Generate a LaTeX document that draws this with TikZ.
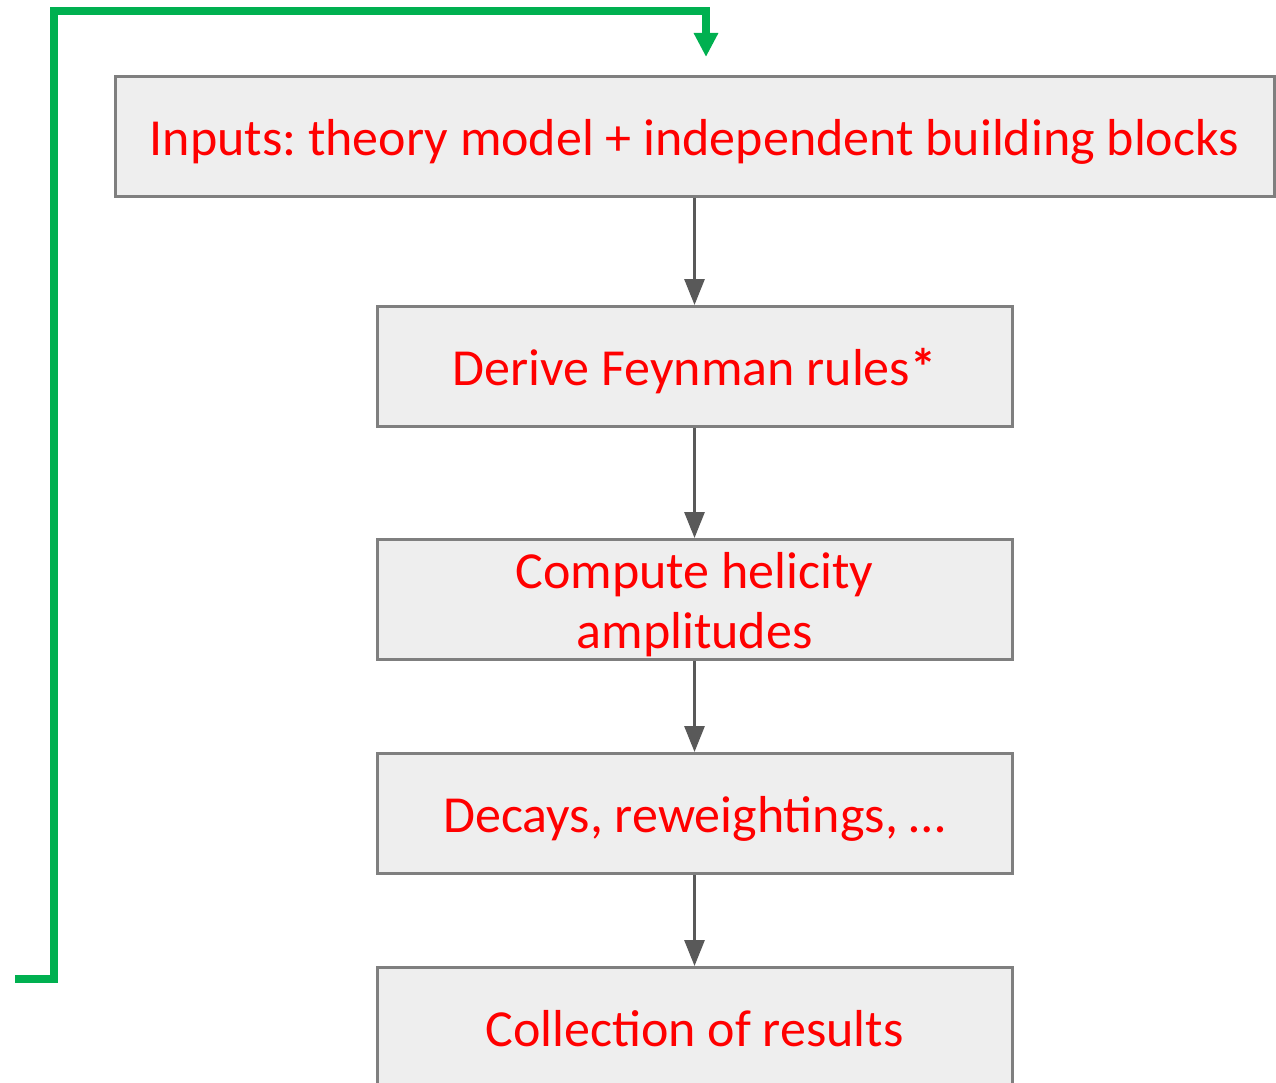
\documentclass[tikz,border=0pt]{standalone}
\usepackage{fontspec}
\setmainfont{Carlito}
\usepackage{xcolor}
\usepackage{tikz}
\usetikzlibrary{arrows.meta,positioning}
\definecolor{boxgray}{RGB}{238,238,238}
\definecolor{edgegray}{RGB}{127,127,127}
\definecolor{arrowgray}{RGB}{89,89,89}
\definecolor{loopgreen}{RGB}{0,176,80}
\frenchspacing
\tikzset{
  block/.style={rectangle, draw=edgegray, line width=3pt, fill=boxgray,
                minimum height=120pt, minimum width=635pt, align=center,
                text height=45pt, text depth=7pt,
                text=red, font=\fontsize{52}{60}\selectfont, inner sep=2pt},
  twolines/.style={text height=105pt},
  arrow/.style={-{Triangle[length=26pt,width=20pt]}, line width=3pt, arrowgray},
  loopback/.style={-{Triangle[length=24pt,width=23pt]}, line width=7.5pt, loopgreen},
}

\begin{document}
\begin{tikzpicture}[x=1pt, y=-1pt]
  \useasboundingbox (0,0) rectangle (1276,1083);
  \node[block, minimum width=1159pt] (inputs) at (694.5,136.5) {Inputs: theory model + independent building blocks};
  \node[block, below=107pt of inputs] (rules) {Derive Feynman rules\textbf{*}};
  \node[block, twolines, below=110pt of rules] (helic) {Compute helicity\\amplitudes};
  \node[block, below=91pt of helic] (decays) {Decays, reweightings, \dots};
  \node[block, below=91pt of decays] (collect) {Collection of results};
  \draw[arrow] (inputs) -- (rules);
  \draw[arrow] (rules) -- (helic);
  \draw[arrow] (helic) -- (decays);
  \draw[arrow] (decays) -- (collect);
  \coordinate (fbstart) at (15,979);
  \coordinate (fbend) at (706,57);
  \draw[loopback] (fbstart) -- ++(39,0) |- (706,11) -- (fbend);
\end{tikzpicture}
\end{document}
